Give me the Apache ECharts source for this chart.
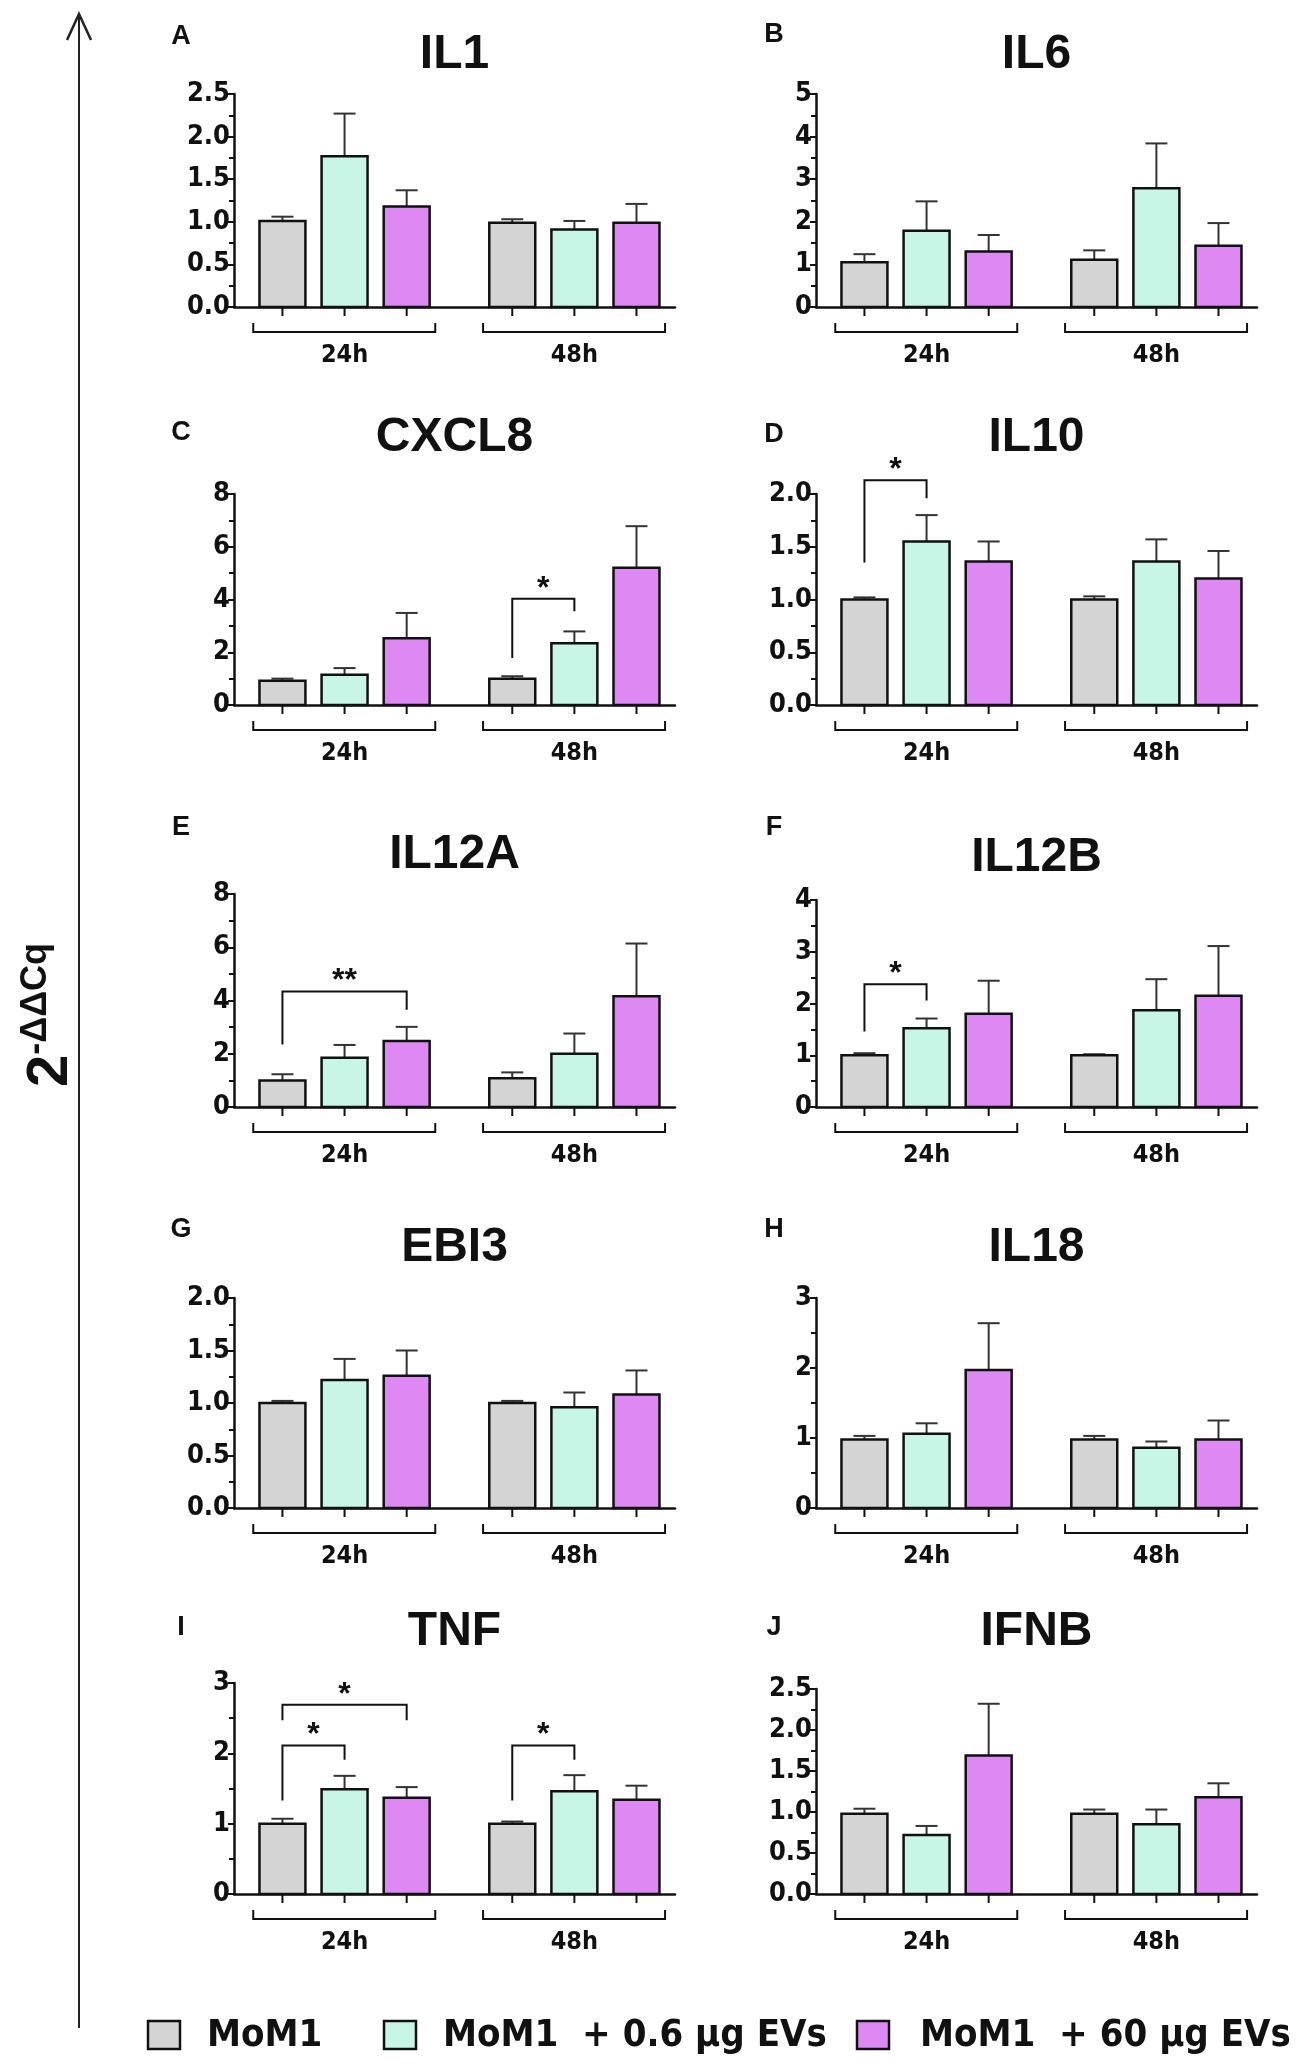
<!DOCTYPE html>
<html>
<head>
<meta charset="utf-8">
<script src="https://cdn.jsdelivr.net/npm/echarts@6/dist/echarts.min.js"></script>
<style>html,body{margin:0;padding:0;background:#fff;}#c{width:1299px;height:2068px;}</style>
</head>
<body>
<div id="c"></div>
<script>
// ---------------- data ----------------
const genes = ['IL1','IL6','CXCL8','IL10','IL12A','IL12B','EBI3','IL18','TNF','IFNB'];
const panelLetters = ['A','B','C','D','E','F','G','H','I','J'];
const groups = ['24h','48h'];
const seriesNames = ['MoM1','MoM1  + 0.6 µg EVs','MoM1  + 60 µg EVs'];

// means per gene (order of genes above)
const mom1_24 = [1.01,1.05,0.92,1.00,1.00,1.00,1.00,0.98,1.00,0.98];
const mom1_48 = [0.99,1.11,1.00,1.00,1.08,1.00,1.00,0.98,1.00,0.98];
const ev06_24 = [1.77,1.79,1.15,1.55,1.85,1.52,1.22,1.06,1.49,0.72];
const ev06_48 = [0.91,2.79,2.34,1.36,2.00,1.87,0.96,0.86,1.46,0.85];
const ev60_24 = [1.18,1.30,2.53,1.36,2.48,1.80,1.26,1.97,1.37,1.69];
const ev60_48 = [0.99,1.44,5.20,1.20,4.16,2.15,1.08,0.98,1.34,1.18];
// error (upper SEM)
const mom1_24e = [0.05,0.19,0.08,0.02,0.23,0.04,0.02,0.05,0.07,0.06];
const mom1_48e = [0.04,0.22,0.09,0.03,0.22,0.02,0.02,0.05,0.03,0.05];
const ev06_24e = [0.50,0.69,0.25,0.25,0.48,0.19,0.20,0.15,0.19,0.11];
const ev06_48e = [0.10,1.05,0.45,0.21,0.76,0.60,0.14,0.09,0.23,0.18];
const ev60_24e = [0.19,0.39,0.96,0.19,0.53,0.64,0.24,0.67,0.15,0.63];
const ev60_48e = [0.22,0.53,1.58,0.26,1.98,0.96,0.23,0.27,0.20,0.17];

// y axis scales
const yMax      = [2.5, 5, 8, 2.0, 8, 4, 2.0, 3, 3, 2.5];
const yInterval = [0.5, 1, 2, 0.5, 2, 1, 0.5, 1, 1, 0.5];
const yDecimals = [1, 0, 0, 1, 0, 0, 1, 0, 0, 1];

// significance brackets
const sigGene     = [2, 3, 4, 5, 8, 8, 8];
const sigFrom     = [3, 0, 0, 0, 0, 0, 3];   // bar index
const sigTo       = [4, 1, 2, 1, 1, 2, 4];
const sigTop      = [4.03, 2.13, 4.34, 2.37, 2.11, 2.69, 2.11];
const sigLeftEnd  = [1.78, 1.35, 2.35, 1.46, 1.33, 2.47, 1.33];
const sigRightEnd = [3.55, 1.96, 3.65, 2.06, 1.91, 2.47, 1.91];
const sigLabel    = ['*', '*', '**', '*', '*', '*', '*'];

// ---------------- layout / style ----------------
const barPos = [0, 1, 2, 3.7, 4.7, 5.7];
const groupSpan = [[0, 2], [3.7, 5.7]];
const colors = ['#d4d4d4', '#c8f6e6', '#de88f3'];
const gridLeft = [234, 816];
const gridWidth = 441;
const gridTop = [94, 94, 494, 494, 894, 900, 1298, 1298, 1683, 1689];
const gridHeight = [213, 213, 211, 211, 213, 207, 210, 210, 211, 205];
const titleY = [55, 55, 438, 438, 855, 858, 1248, 1248, 1632, 1632];
const letterY = [37, 35, 433, 435, 828, 828, 1230, 1230, 1628, 1628];
const letterX = [181, 774];
const FONT = "'Liberation Sans', Arial, sans-serif";
const NARROW = "'Liberation Sans Narrow', 'DejaVu Sans Condensed', 'Liberation Sans', sans-serif";
const INK = '#111';

function barData(g) {
  const m = [mom1_24[g], ev06_24[g], ev60_24[g], mom1_48[g], ev06_48[g], ev60_48[g]];
  const e = [mom1_24e[g], ev06_24e[g], ev60_24e[g], mom1_48e[g], ev06_48e[g], ev60_48e[g]];
  return m.map((v, i) => [barPos[i], v, e[i], i % 3]);
}

function renderBar(params, api) {
  const x = api.value(0), y = api.value(1), s = api.value(2), ci = api.value(3);
  const top = api.coord([x, y]);
  const base = api.coord([x, 0]);
  const et = api.coord([x, y + s]);
  const w = api.size([0.74, 0])[0];
  return {
    type: 'group',
    children: [
      {type: 'line', shape: {x1: base[0], y1: base[1], x2: base[0], y2: base[1] + 9}, style: {stroke: INK, lineWidth: 2}},
      {type: 'line', shape: {x1: top[0], y1: top[1], x2: top[0], y2: et[1]}, style: {stroke: '#333', lineWidth: 2}},
      {type: 'line', shape: {x1: top[0] - 11, y1: et[1], x2: top[0] + 11, y2: et[1]}, style: {stroke: '#333', lineWidth: 2}},
      {type: 'rect', shape: {x: top[0] - w / 2, y: top[1], width: w, height: base[1] - top[1]},
       style: {fill: colors[ci], stroke: INK, lineWidth: 2.5}}
    ]
  };
}

function renderGroup(params, api) {
  const a = api.coord([api.value(0) - 0.47, 0]);
  const b = api.coord([api.value(1) + 0.46, 0]);
  const mid = api.coord([(api.value(0) + api.value(1)) / 2, 0]);
  const y0 = a[1];
  return {
    type: 'group',
    children: [
      {type: 'polyline', shape: {points: [[a[0], y0 + 16], [a[0], y0 + 25], [b[0], y0 + 25], [b[0], y0 + 16]]},
       style: {stroke: INK, lineWidth: 2, fill: null}},
      {type: 'text', x: mid[0], y: y0 + 48,
       style: {text: groups[params.dataIndex], fill: INK, font: 'bold 25px ' + NARROW,
               align: 'center', verticalAlign: 'middle', textAlign: 'center', textVerticalAlign: 'middle'}}
    ]
  };
}

function makeSigRender(labels) {
  return function (params, api) {
    const xf = api.value(0), xt = api.value(1), t = api.value(2), le = api.value(3), re = api.value(4);
    const p1 = api.coord([xf, le]);
    const p2 = api.coord([xf, t]);
    const p3 = api.coord([xt, t]);
    const p4 = api.coord([xt, re]);
    return {
      type: 'group',
      children: [
        {type: 'polyline', shape: {points: [p1, p2, p3, p4]}, style: {stroke: INK, lineWidth: 2, fill: null}},
        {type: 'text', x: (p2[0] + p3[0]) / 2, y: p2[1] - 10,
         style: {text: labels[params.dataIndex], fill: INK, font: 'bold 32px ' + FONT,
                 align: 'center', verticalAlign: 'middle', textAlign: 'center', textVerticalAlign: 'middle'}}
      ]
    };
  };
}

const grid = [], xAxis = [], yAxis = [], series = [], graphic = [];

genes.forEach((gene, g) => {
  const col = g % 2;
  grid.push({left: gridLeft[col], top: gridTop[g], width: gridWidth, height: gridHeight[g]});
  xAxis.push({
    type: 'value', gridIndex: g, min: -0.78, max: 6.32,
    axisLine: {show: true, onZero: false, lineStyle: {color: INK, width: 2.5}},
    axisTick: {show: false}, axisLabel: {show: false}, splitLine: {show: false}
  });
  yAxis.push({
    type: 'value', gridIndex: g, min: 0, max: yMax[g], interval: yInterval[g],
    axisLine: {show: true, onZero: false, lineStyle: {color: INK, width: 2.5}},
    axisTick: {show: true, length: 6, lineStyle: {color: INK, width: 2}},
    minorTick: {show: true, splitNumber: 2, length: 5, lineStyle: {color: INK, width: 2}},
    splitLine: {show: false}, minorSplitLine: {show: false},
    axisLabel: {
      color: INK, fontSize: 27, fontWeight: 'bold', fontFamily: NARROW, margin: 4,
      formatter: (v) => v.toFixed(yDecimals[g])
    }
  });
  series.push({
    type: 'custom', name: gene, xAxisIndex: g, yAxisIndex: g, clip: false,
    renderItem: renderBar, data: barData(g), encode: {x: 0, y: 1}, silent: true
  });
  series.push({
    type: 'custom', name: gene + ' groups', xAxisIndex: g, yAxisIndex: g, clip: false,
    renderItem: renderGroup, data: groupSpan, encode: {x: [0, 1]}, silent: true
  });
  const sigIdx = [];
  sigGene.forEach((sg, k) => { if (sg === g) sigIdx.push(k); });
  if (sigIdx.length) {
    series.push({
      type: 'custom', name: gene + ' sig', xAxisIndex: g, yAxisIndex: g, clip: false,
      renderItem: makeSigRender(sigIdx.map(k => sigLabel[k])),
      data: sigIdx.map(k => [barPos[sigFrom[k]], barPos[sigTo[k]], sigTop[k], sigLeftEnd[k], sigRightEnd[k]]),
      encode: {x: [0, 1], y: [2, 3, 4]}, silent: true
    });
  }
  // title and panel letter
  graphic.push({
    type: 'text', x: gridLeft[col] + gridWidth / 2, y: titleY[g],
    style: {text: gene, fill: INK, font: 'bold 48px ' + FONT, align: 'center', verticalAlign: 'middle',
            textAlign: 'center', textVerticalAlign: 'middle'}
  });
  graphic.push({
    type: 'text', x: letterX[col], y: letterY[g],
    style: {text: panelLetters[g], fill: INK, font: 'bold 27px ' + FONT, align: 'center', verticalAlign: 'middle',
            textAlign: 'center', textVerticalAlign: 'middle'}
  });
});

// global y arrow and label
graphic.push({type: 'line', shape: {x1: 79, y1: 16, x2: 79, y2: 2028}, style: {stroke: '#222', lineWidth: 2}});
graphic.push({type: 'polyline', shape: {points: [[67, 40], [79, 14], [91, 40]]}, style: {stroke: '#222', lineWidth: 2.5, fill: null}});
graphic.push({
  type: 'text', x: 49, y: 1015, rotation: Math.PI / 2,
  style: {
    text: '{a|2}{b|-ΔΔCq}', align: 'center', verticalAlign: 'middle', textAlign: 'center', textVerticalAlign: 'middle',
    rich: {
      a: {fontSize: 58, fontWeight: 'bold', fontFamily: FONT, fill: INK, verticalAlign: 'bottom'},
      b: {fontSize: 36, fontWeight: 'bold', fontFamily: FONT, fill: INK, verticalAlign: 'bottom', padding: [0, 0, 26, 0]}
    }
  }
});

// legend
const legBoxX = [148, 384, 857];
const legTextX = [207, 443, 920];
seriesNames.forEach((name, i) => {
  graphic.push({type: 'rect', shape: {x: legBoxX[i], y: 2021, width: 32, height: 28},
                style: {fill: colors[i], stroke: INK, lineWidth: 2.5}});
  graphic.push({type: 'text', x: legTextX[i], y: 2036,
                style: {text: name, fill: INK, font: 'bold 38px ' + NARROW, align: 'left', verticalAlign: 'middle',
                        textAlign: 'left', textVerticalAlign: 'middle'}});
});

const chart = echarts.init(document.getElementById('c'), null, {renderer: 'canvas'});
chart.setOption({
  backgroundColor: '#fff',
  animation: false,
  grid, xAxis, yAxis, series, graphic
});
</script>
</body>
</html>
